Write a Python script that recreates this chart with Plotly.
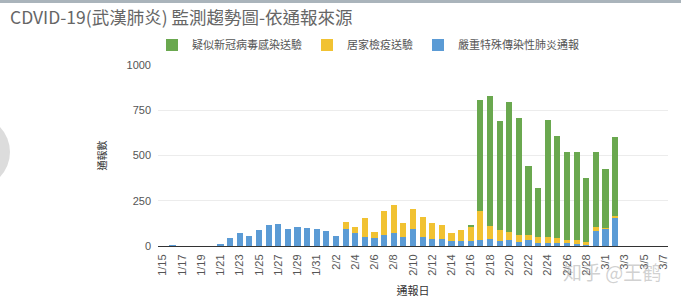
import plotly.graph_objects as go

dates = ["1/15","1/16","1/17","1/18","1/19","1/20","1/21","1/22","1/23","1/24","1/25","1/26","1/27","1/28","1/29","1/30","1/31",
         "2/1","2/2","2/3","2/4","2/5","2/6","2/7","2/8","2/9","2/10","2/11","2/12","2/13","2/14","2/15","2/16","2/17","2/18","2/19","2/20",
         "2/21","2/22","2/23","2/24","2/25","2/26","2/27","2/28","2/29",
         "3/1","3/2","3/3","3/4","3/5","3/6","3/7"]

severe_pneumonia = [0,4,0,0,0,0,10,42,70,53,86,117,123,92,103,97,92,
                    83,57,92,72,51,46,59,70,50,94,51,40,37,28,26,28,31,41,26,31,
                    22,31,17,17,15,15,13,11,82,
                    96,157,0,0,0,0,0]
home_quarantine = [0,0,0,0,0,0,0,0,0,0,0,0,0,0,0,0,0,
                   0,0,38,31,101,29,137,155,75,112,112,85,77,42,60,82,165,67,60,44,
                   40,28,31,33,29,20,18,11,24,
                   6,9,0,0,0,0,0]
suspected_covid = [0,0,0,0,0,0,0,0,0,0,0,0,0,0,0,0,0,
                   0,0,0,0,0,0,0,0,0,0,0,0,0,0,0,4,611,720,604,719,
                   646,381,273,645,562,482,486,352,412,
                   325,435,0,0,0,0,0]

tick_labels = dates[::2]

names = ["嚴重特殊傳染性肺炎通報", "居家檢疫送驗", "疑似新冠病毒感染送驗"]
colors = ["#5b9bd5", "#f1c232", "#6aa84f"]

CJK = "Noto Sans CJK TC"
LAT = "Liberation Sans, Arial, sans-serif"

fig = go.Figure()
for name, vals, col in zip(names, [severe_pneumonia, home_quarantine, suspected_covid], colors):
    fig.add_trace(go.Bar(x=dates, y=vals, name=name, marker=dict(color=col, line=dict(width=0))))

W, H = 681, 303
L, R, T, B = 158, 13, 65, 57
pw, ph = W - L - R, H - T - B

def px2paper_x(px):
    return (px - L) / pw

def px2paper_y(py):
    return (H - B - py) / ph

fig.update_layout(
    width=W, height=H,
    margin=dict(l=L, r=R, t=T, b=B, autoexpand=False),
    barmode="stack",
    bargap=0.36,
    plot_bgcolor="white",
    paper_bgcolor="white",
    showlegend=True,
    legend=dict(orientation="h", traceorder="reversed",
                x=px2paper_x(152), y=px2paper_y(45), xanchor="left", yanchor="middle",
                font=dict(family=CJK, size=11, color="#555"), itemwidth=30,
                bgcolor="rgba(0,0,0,0)"),
    title=dict(text="CDVID-19(武漢肺炎) 監測趨勢圖-依通報來源", x=10 / W, xanchor="left",
               y=1 - 18 / H, yanchor="middle",
               font=dict(family=CJK, size=17.5, color="#666")),
    xaxis=dict(type="category", tickmode="array", tickvals=tick_labels, ticktext=tick_labels,
               tickangle=-90, tickfont=dict(family=LAT, size=11, color="#555"),
               showgrid=False, showline=True, linecolor="#333", linewidth=1, ticks="",
               ticklabelstandoff=3,
               title=dict(text="通報日", font=dict(family=CJK, size=11, color="#333"), standoff=12),
               automargin=False),
    yaxis=dict(range=[0, 1000], tickvals=[0, 250, 500, 750, 1000],
               tickfont=dict(family=LAT, size=11, color="#555"),
               showgrid=True, gridcolor="#ececec", zeroline=False, ticks="",
               ticklabelstandoff=6,
               title=dict(text="通報數", font=dict(family=CJK, size=10, color="#333"), standoff=18),
               automargin=False),
    shapes=[
        dict(type="rect", xref="paper", yref="paper",
             x0=px2paper_x(0), x1=px2paper_x(W), y0=px2paper_y(0), y1=px2paper_y(3),
             fillcolor="#aab4bb", line=dict(width=0), layer="above"),
        dict(type="circle", xref="paper", yref="paper",
             x0=px2paper_x(-62), x1=px2paper_x(10), y0=px2paper_y(116), y1=px2paper_y(188),
             fillcolor="#dcdcdc", line=dict(width=0)),
    ],
    annotations=[
        dict(text="知乎 @王鹤", xref="paper", yref="paper", x=px2paper_x(612), y=px2paper_y(271),
             xanchor="center", yanchor="middle", showarrow=False,
             font=dict(family=CJK, size=19, color="rgba(170,170,170,0.55)")),
    ],
)

fig.write_html("out.html")
